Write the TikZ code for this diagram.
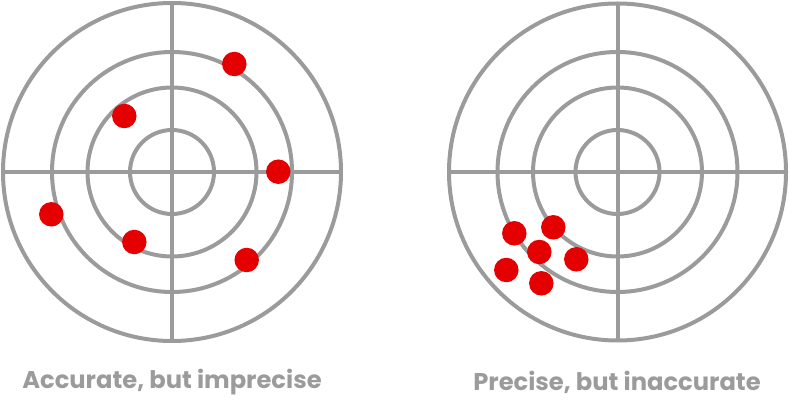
\documentclass[tikz,border=0pt]{standalone}
\usepackage{fontspec}
\setmainfont{Poppins}[BoldFont={Poppins Bold}]
\usepackage{tikz}
\usetikzlibrary{positioning, calc}

\definecolor{ringgray}{RGB}{155,155,155}
\definecolor{hitred}{RGB}{228,0,0}

\begin{document}
\begin{tikzpicture}[
  x=1pt, y=-1pt,
  ring/.style={draw=ringgray, line width=4pt},
  hit/.style={circle, fill=hitred, inner sep=0pt, minimum size=24.5pt},
  caption/.style={font=\fontsize{24.2}{27}\selectfont\bfseries, text=ringgray}
]
  \useasboundingbox (0,0) rectangle (789,403);

  % left target
  \coordinate (L) at (172,172);
  \draw[ring] (L) circle[radius=169];
  \draw[ring] (L) circle[radius=120];
  \draw[ring] (L) circle[radius=84.5];
  \draw[ring] (L) circle[radius=42];
  \draw[ring] ($(L)+(-169,0)$) -- ($(L)+(169,0)$);
  \draw[ring] ($(L)+(0,-169)$) -- ($(L)+(0,169)$);

  \node[hit] (l1) at (234.3,64) {};
  \node[hit] (l2) at (124.3,116) {};
  \node[hit] (l3) at (278.3,171.7) {};
  \node[hit] (l4) at (51.3,214.3) {};
  \node[hit] (l5) at (134.3,242) {};
  \node[hit] (l6) at (246.7,260) {};

  % right target
  \coordinate (R) at (617.5,172);
  \draw[ring] (R) circle[radius=168.5];
  \draw[ring] (R) circle[radius=120];
  \draw[ring] (R) circle[radius=84.5];
  \draw[ring] (R) circle[radius=42];
  \draw[ring] ($(R)+(-168.5,0)$) -- ($(R)+(168.5,0)$);
  \draw[ring] ($(R)+(0,-168.5)$) -- ($(R)+(0,168.5)$);

  \node[hit] (r1) at (514.3,233.3) {};
  \node[hit] (r2) at (553.3,227.3) {};
  \node[hit] (r3) at (539.3,252) {};
  \node[hit] (r4) at (576.3,259.3) {};
  \node[hit] (r5) at (506.3,270) {};
  \node[hit] (r6) at (541.3,283.3) {};

  \node[caption] (capL) at (172,382) {Accurate, but imprecise};
  \node[caption] (capR) at (617,382) {Precise, but inaccurate};
\end{tikzpicture}
\end{document}
